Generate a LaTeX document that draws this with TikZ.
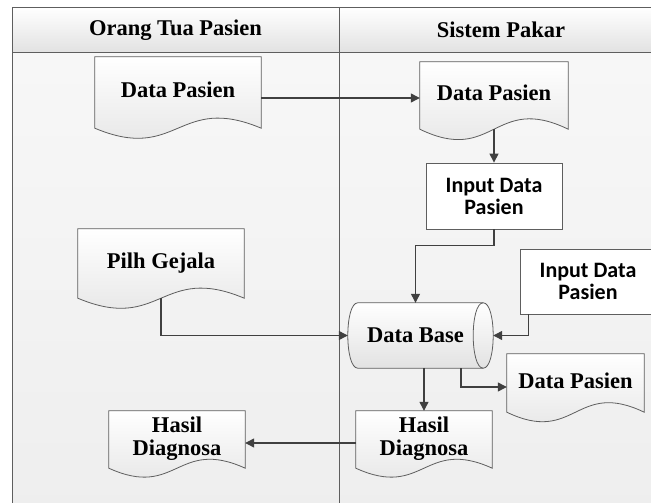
\documentclass[tikz,border=0pt]{standalone}
\usepackage{fontspec}
\setmainfont{Liberation Serif}
\newfontfamily\carlitofont{Carlito}
\usetikzlibrary{arrows.meta,calc}
\pgfdeclarelayer{lanes}
\pgfdeclarelayer{shapes}
\pgfsetlayers{lanes,shapes,main}
\definecolor{lineC}{HTML}{5E5E5E}
\definecolor{arrC}{HTML}{404040}
\definecolor{shadeC}{HTML}{E2E2E2}
\definecolor{laneTop}{HTML}{F8F8F8}
\definecolor{laneBot}{HTML}{EEEEEE}
\newcommand\docoutline[2]{\path[docshape] (#1.north west) -- (#1.north east) -- (#1.south east) .. controls ($(#1.south)+(0,-#2)$) and ($(#1.south)+(0,#2)$) .. (#1.south west) -- cycle;}
\begin{document}
\begin{tikzpicture}[x=1pt,y=-1pt,
  txt/.style={font=\fontsize{22.5}{22.5}\selectfont\bfseries, align=center, inner sep=0pt, text=black},
  sanstxt/.style={font=\carlitofont\fontsize{22}{22}\selectfont\bfseries, align=center, inner sep=0pt, text=black},
  rectbox/.style={sanstxt, draw=lineC, line width=0.8pt, fill=white, minimum width=136pt},
  docshape/.style={draw=lineC, line width=0.8pt, top color=white, bottom color=shadeC},
  lane/.style={draw=lineC, line width=0.8pt},
  arr/.style={draw=arrC, line width=1.2pt, -{Triangle[length=9pt,width=9pt]}}
]
\useasboundingbox (0,0) rectangle (651,503);

% lanes
\begin{pgfonlayer}{lanes}
  \fill[top color=laneTop, bottom color=laneBot] (12,7) rectangle (670,520);
  \path[top color=white, bottom color=laneBot!95!black] (12,7) rectangle (670,52);
  \draw[lane] (12,520) -- (12,7) -- (670,7);
  \draw[lane] (12,52) -- (670,52);
  \draw[lane] (339,7) -- (339,520);
\end{pgfonlayer}

% nodes
\node[txt] (h1) at (175.5,30) {Orang Tua Pasien};
\node[txt] (h2) at (501,30) {Sistem Pakar};
\node[txt, minimum width=166pt, minimum height=71pt] (d1) at (178,92.5) {\raisebox{5pt}{Data Pasien}};
\node[txt, minimum width=148pt, minimum height=67pt] (d2) at (494,95.5) {\raisebox{5.5pt}{Data Pasien}};
\node[rectbox, minimum height=66pt] (in1) at (494,196) {Input Data\\Pasien};
\node[txt, minimum width=166pt, minimum height=69pt] (pg) at (161,263.5) {\raisebox{5.5pt}{Pilh Gejala}};
\node[rectbox, minimum height=65pt] (in2) at (588,281.5) {Input Data\\Pasien};
\node[txt, minimum width=135pt, minimum height=65pt] (db) at (415.5,335.5) {Data Base};
\node[txt, minimum width=137pt, minimum height=58pt] (dp3) at (575.5,383) {\raisebox{5pt}{Data Pasien}};
\node[txt, minimum width=136pt, minimum height=57pt] (hr) at (424,439.5) {\raisebox{5pt}{\begin{tabular}{@{}c@{}}Hasil\\Diagnosa\end{tabular}}};
\node[txt, minimum width=136pt, minimum height=57pt] (hl) at (177,439.5) {\raisebox{5pt}{\begin{tabular}{@{}c@{}}Hasil\\Diagnosa\end{tabular}}};

% shapes behind texts
\begin{pgfonlayer}{shapes}
  \docoutline{d1}{35}
  \docoutline{d2}{36}
  \docoutline{pg}{35}
  \docoutline{dp3}{33}
  \docoutline{hr}{31}
  \docoutline{hl}{31}
  \coordinate (TL) at ($(db.north west)+(10,0)$);
  \coordinate (BL) at ($(db.south west)+(10,0)$);
  \coordinate (TR) at (db.north east);
  \coordinate (BR) at (db.south east);
  \path[docshape] (TL) -- (TR) .. controls +(13.33,0) and +(13.33,0) .. (BR) -- (BL) .. controls +(-13.33,0) and +(-13.33,0) .. (TL) -- cycle;
  \draw[lineC, line width=0.8pt] (TR) .. controls +(-13.33,0) and +(-13.33,0) .. (BR);
\end{pgfonlayer}

% connectors
\coordinate (dbR) at ($(db.east)+(10,0)$);
\draw[arr] (d1.east |- 0,98) -- (d2.west |- 0,98);
\draw[arr] (d2.south) -- (in1.north);
\draw[arr] (in1.south) -- ++(0,16) -| (db.north);
\draw[arr] (pg.south) |- (db.west);
\draw[arr] ($(in2.south west)+(9,0)$) |- (dbR);
\draw[arr] (db.south -| hr.north) -- (hr.north);
\draw[arr] ($(db.south)+(45.5,0)$) |- ($(dp3.west)+(0,4)$);
\draw[arr] ($(hr.west)+(0,3.5)$) -- ($(hl.east)+(0,3.5)$);
\end{tikzpicture}
\end{document}
